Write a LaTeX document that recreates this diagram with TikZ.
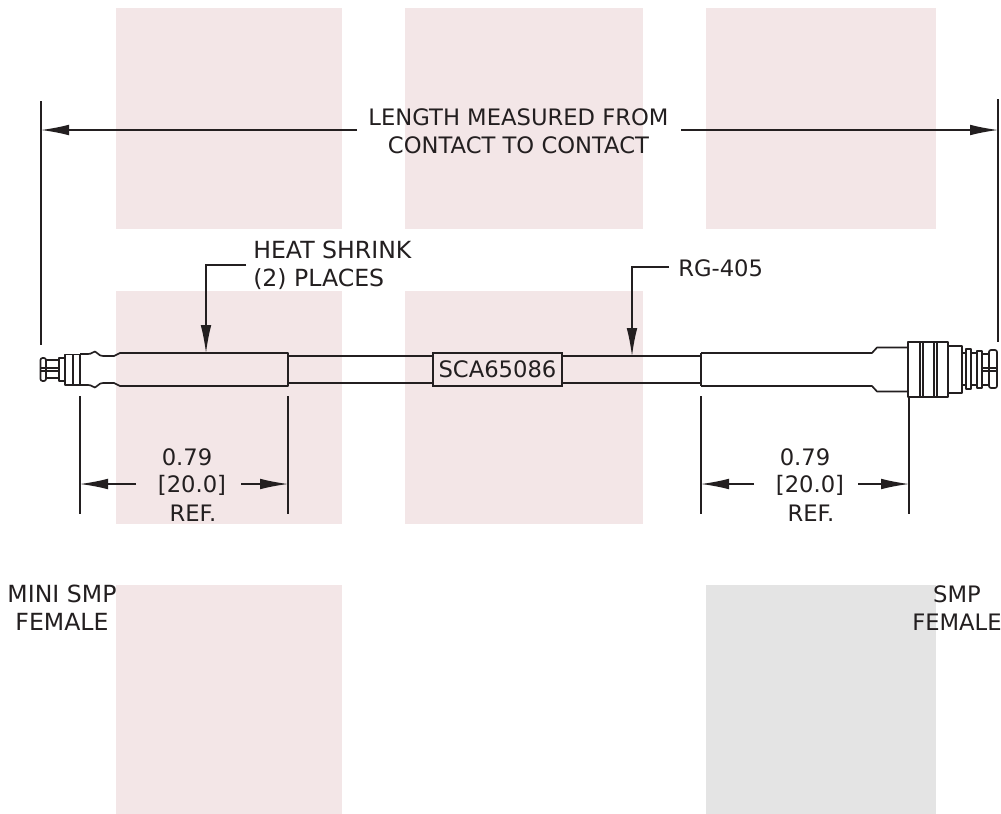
\documentclass[tikz,border=0pt]{standalone}
\usepackage{fontspec}
\setmainfont{DejaVu Sans}
\usetikzlibrary{arrows.meta}
\definecolor{ink}{HTML}{231F20}
\definecolor{pinkbg}{HTML}{F3E6E7}
\definecolor{greybg}{HTML}{E4E4E4}
\tikzset{
  pinkrect/.style={fill=pinkbg,draw=none},
  greyrect/.style={fill=greybg,draw=none},
  part/.style={draw=ink,line width=1.25pt,line join=round},
  thinpart/.style={draw=ink,line width=0.8pt,line join=round},
  dimline/.style={draw=ink,line width=0.9pt},
  dimarrow/.style={draw=ink,line width=0.9pt,-{Latex[length=21pt,width=8pt]}},
  leadarrow/.style={draw=ink,line width=0.9pt,-{Latex[length=21pt,width=8pt]}},
  lbl/.style={text=ink,font=\fontsize{17}{21.3}\selectfont,inner sep=0pt,align=center},
  lbll/.style={lbl,align=left,anchor=west},
  lblwide/.style={font=\fontsize{17.7}{21.3}\selectfont},
}
\begin{document}
\begin{tikzpicture}[x=0.75pt,y=-0.75pt]
\useasboundingbox (0,0) rectangle (1001,814);
\fill[white] (0,0) rectangle (1001,814);
% background squares
\foreach \a/\b/\c/\d in {116/8/342/229,405/8/643/229,706/8/936/229,116/291/342/524,405/291/643/524,116/585/342/814}
  \path[pinkrect] (\a,\b) rectangle (\c,\d);
\path[greyrect] (706,585) rectangle (936,814);

% cable
\draw[part] (288,356) -- (433,356) (562,356) -- (701,356);
\draw[part] (288,383) -- (433,383) (562,383) -- (701,383);

% left heat shrink and body
\draw[part] (80,354) -- (88,354) .. controls (92,354) and (92,352) .. (95,351.5)
  .. controls (98,352) and (98,356) .. (103,356) -- (114,356) -- (120,353) -- (288,353) -- (288,386)
  -- (120,386) -- (114,383) -- (103,383) .. controls (98,383) and (98,387) .. (95,387.5)
  .. controls (92,387) and (92,385) .. (88,385) -- (80,385);
% left connector
\draw[part] (80,354.5) -- (65,354.5) -- (65,385) -- (80,385) -- cycle;
\draw[part,line width=1.9pt] (73,354.5) -- (73,385);
\draw[part] (65,358) -- (59,358) -- (59,381) -- (65,381);
\draw[part] (59,360) -- (46,360) (59,378) -- (46,378);
\draw[part,rounded corners=1.5pt] (40.5,358) rectangle (46,381);
\draw[part] (40.5,368) -- (59,368) (40.5,371) -- (59,371);

% right heat shrink
\draw[part] (701,353) -- (872,353) -- (877,347.5) -- (908,347.5);
\draw[part] (701,386) -- (872,386) -- (877,391.5) -- (908,391.5);
\draw[part] (701,353) -- (701,386);
% right connector collars
\draw[part,line width=1.5pt] (908,342) rectangle (920,397);
\draw[part,line width=1.5pt] (923,342) rectangle (934,397);
\draw[part,line width=1.5pt] (937,342) rectangle (948,397);
\draw[thinpart] (920,342) -- (923,342) (920,397) -- (923,397) (934,342) -- (937,342) (934,397) -- (937,397);
\draw[part] (948,346) -- (962,346) -- (962,393) -- (948,393);
\draw[thinpart] (962,353) -- (966,353) (962,385) -- (966,385);
\draw[part] (966,349) rectangle (971,389);
\draw[part] (971,353) -- (977,353) (971,385) -- (977,385);
\draw[part] (977,351) rectangle (982,388);
\draw[part] (982,354) -- (989,354) (982,385) -- (989,385);
\draw[part,rounded corners=1.5pt] (989,350) rectangle (997,388);
\draw[part] (982,368) -- (997,368) (982,371) -- (997,371);

% labelled box
\node[draw=ink,line width=1.25pt,minimum width=96.75pt,minimum height=24.75pt,inner sep=0pt,text=ink,font=\fontsize{17}{20}\selectfont] (partno) at (497.5,369.5) {SCA65086};

% overall length
\coordinate (extLtop) at (41,101); \coordinate (extLbot) at (41,345);
\coordinate (extRtop) at (998,99); \coordinate (extRbot) at (998,342);
\draw[dimline] (extLtop) -- (extLbot);
\draw[dimline] (extRtop) -- (extRbot);
\node[lbl] (length) at (518.5,131) {LENGTH MEASURED FROM\\CONTACT TO CONTACT};
\coordinate (lenL0) at (357,130); \coordinate (lenLe) at (41,130);
\coordinate (lenR0) at (681,130); \coordinate (lenRe) at (998,130);
\draw[dimarrow] (lenL0) -- (lenLe);
\draw[dimarrow] (lenR0) -- (lenRe);

% leaders
\node[lbll,lblwide] (heat) at (253,265) {HEAT SHRINK\\(2) PLACES};
\coordinate (heatS) at (246,265); \coordinate (heatC) at (206,265); \coordinate (heatE) at (206,353);
\draw[leadarrow] (heatS) -- (heatC) -- (heatE);
\node[lbll] (rg) at (678,268) {RG-405};
\coordinate (rgS) at (669,267); \coordinate (rgC) at (632,267); \coordinate (rgE) at (632,356);
\draw[leadarrow] (rgS) -- (rgC) -- (rgE);

% left ref dimension
\coordinate (a1) at (80,396); \coordinate (a2) at (80,514);
\coordinate (b1) at (288,396); \coordinate (b2) at (288,514);
\draw[dimline] (a1) -- (a2); \draw[dimline] (b1) -- (b2);
\node[lbl] (dimA1) at (187,457) {0.79};
\node[lbl] (dimA2) at (192,485) {[20.0]};
\node[lbl] (dimA3) at (193,513) {REF.};
\coordinate (a3) at (136,484); \coordinate (a4) at (80,484);
\coordinate (a5) at (241,484); \coordinate (a6) at (288,484);
\draw[dimarrow] (a3) -- (a4);
\draw[dimarrow] (a5) -- (a6);

% right ref dimension
\coordinate (c1) at (701,396); \coordinate (c2) at (701,514);
\coordinate (d1) at (909,396); \coordinate (d2) at (909,514);
\draw[dimline] (c1) -- (c2); \draw[dimline] (d1) -- (d2);
\node[lbl] (dimB1) at (805,457) {0.79};
\node[lbl] (dimB2) at (810,485) {[20.0]};
\node[lbl] (dimB3) at (811,513) {REF.};
\coordinate (c3) at (754,484); \coordinate (c4) at (701,484);
\coordinate (c5) at (858,484); \coordinate (c6) at (909,484);
\draw[dimarrow] (c3) -- (c4);
\draw[dimarrow] (c5) -- (c6);

% connector names
\node[lbl,lblwide] (miniL) at (62,608) {MINI SMP\\FEMALE};
\node[lbl] (smpL) at (957,608) {SMP\\FEMALE};
\end{tikzpicture}
\end{document}
